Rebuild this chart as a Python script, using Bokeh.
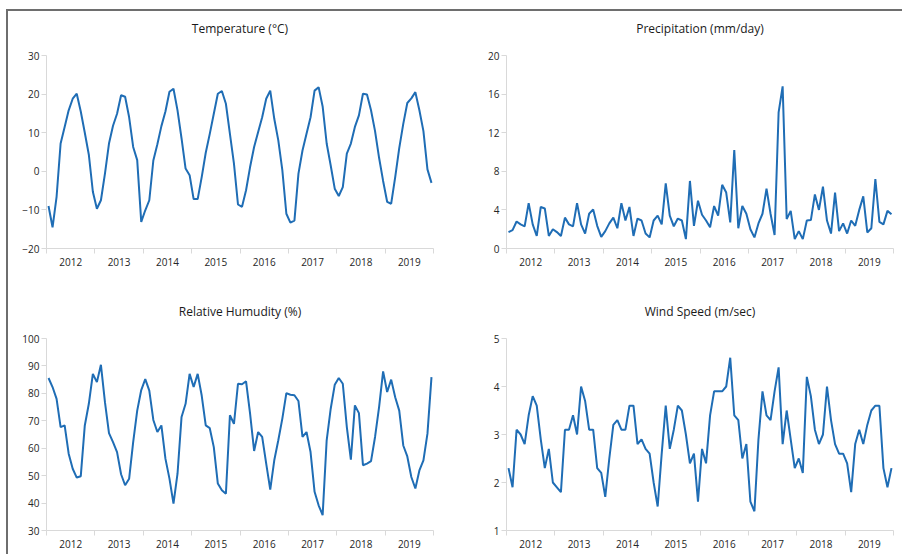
from bokeh.plotting import figure
from bokeh.models import Range1d, FixedTicker, Title
from bokeh.layouts import row, column
from bokeh.embed import file_html
from bokeh.resources import INLINE

years = ["2012", "2013", "2014", "2015", "2016", "2017", "2018", "2019"]

temperature = [
    -9.0, -14.5, -6.6, 7.2, 11.5, 15.8, 18.8, 20.1, 15.5, 10.0, 4.3, -5.3,
    -9.7, -7.5, -0.6, 7.2, 11.8, 14.9, 19.7, 19.3, 14.0, 6.3, 2.9, -13.1,
    -10.1, -7.5, 2.8, 7.0, 11.7, 15.5, 20.6, 21.4, 15.8, 8.5, 0.7, -1.0,
    -7.2, -7.2, -1.5, 4.8, 9.7, 14.9, 20.1, 20.8, 17.5, 9.7, 2.0, -8.6,
    -9.2, -4.9, 1.1, 6.3, 10.2, 14.0, 18.8, 20.9, 13.6, 8.0, 0.3, -11.0,
    -13.3, -12.8, -0.6, 5.4, 9.7, 14.0, 20.9, 21.8, 16.8, 7.2, 1.5, -4.5,
    -6.4, -4.1, 4.6, 7.2, 11.5, 14.5, 20.1, 19.9, 15.8, 10.4, 3.5, -2.5,
    -7.9, -8.4, -1.5, 6.0, 12.3, 17.7, 18.9, 20.5, 15.8, 10.4, 0.5, -3.0,
]

precipitation = [
    1.7, 1.9, 2.8, 2.5, 2.3, 4.7, 2.5, 1.3, 4.3, 4.15, 1.3, 2.0,
    1.7, 1.3, 3.2, 2.5, 2.3, 4.7, 2.5, 1.55, 3.6, 4.05, 2.35, 1.2,
    1.8, 2.6, 3.2, 2.1, 4.7, 2.9, 4.3, 1.3, 3.1, 2.9, 1.55, 1.15,
    2.9, 3.4, 2.5, 6.75, 3.4, 2.3, 3.1, 2.9, 0.97, 7.0, 2.35, 4.95,
    3.5, 2.9, 2.2, 4.4, 3.4, 6.6, 5.8, 2.7, 10.2, 2.1, 4.4, 3.6,
    2.0, 1.15, 2.6, 3.6, 6.2, 3.6, 1.4, 14.1, 16.8, 3.05, 3.9, 0.97,
    1.8, 0.97, 2.9, 2.95, 5.6, 4.0, 6.4, 2.9, 1.55, 5.8, 1.8, 2.6,
    1.55, 2.9, 2.35, 4.0, 5.4, 1.66, 2.1, 7.2, 2.75, 2.5, 3.9, 3.55,
]

humidity = [
    85.6, 82.3, 78.0, 67.7, 68.3, 58.0, 52.5, 49.3, 49.8, 68.3, 76.2, 87.1,
    84.1, 90.4, 76.8, 65.5, 62.2, 58.6, 50.5, 46.5, 48.9, 62.2, 73.7, 81.2,
    85.2, 81.0, 70.3, 65.9, 68.3, 56.2, 48.9, 39.8, 50.7, 71.4, 76.2, 87.1,
    82.3, 87.1, 79.2, 68.3, 67.3, 60.4, 47.1, 44.7, 43.4, 72.0, 68.9, 83.5,
    83.3, 84.4, 72.6, 59.0, 65.9, 64.1, 54.4, 44.9, 55.6, 62.9, 70.8, 80.1,
    79.5, 79.3, 77.2, 64.1, 65.9, 58.6, 44.1, 39.2, 35.6, 62.9, 74.4, 83.1,
    85.6, 83.5, 67.7, 55.8, 75.6, 72.8, 53.8, 54.4, 55.3, 64.1, 75.0, 88.0,
    80.5, 85.0, 78.6, 73.7, 61.0, 57.0, 49.5, 45.3, 51.9, 55.6, 65.3, 85.9,
]

wind_speed = [
    2.3, 1.9, 3.1, 3.0, 2.8, 3.4, 3.8, 3.6, 2.9, 2.3, 2.7, 2.0,
    1.9, 1.8, 3.1, 3.1, 3.4, 3.0, 4.0, 3.7, 3.1, 3.1, 2.3, 2.2,
    1.7, 2.5, 3.2, 3.3, 3.1, 3.1, 3.6, 3.6, 2.8, 2.9, 2.7, 2.6,
    2.0, 1.5, 2.6, 3.6, 2.7, 3.1, 3.6, 3.5, 3.0, 2.4, 2.6, 1.6,
    2.7, 2.4, 3.4, 3.9, 3.9, 3.9, 4.0, 4.6, 3.4, 3.3, 2.5, 2.8,
    1.6, 1.4, 2.9, 3.9, 3.4, 3.3, 3.9, 4.4, 2.8, 3.5, 2.9, 2.3,
    2.5, 2.2, 4.2, 3.8, 3.1, 2.8, 3.0, 4.0, 3.3, 2.8, 2.6, 2.6,
    2.4, 1.8, 2.8, 3.1, 2.8, 3.2, 3.5, 3.6, 3.6, 2.3, 1.9, 2.3,
]

temp_ticks = [-20, -10, 0, 10, 20, 30]
precip_ticks = [0, 4, 8, 12, 16, 20]
humid_ticks = [30, 40, 50, 60, 70, 80, 90, 100]
wind_ticks = [1, 2, 3, 4, 5]

BLUE = "#1f6db5"
AXIS = "#d9d9d9"
TEXT = "#262626"
FONT = "Open Sans"


def make(title, values, yticks, w, h, bl, br, bt, bb):
    n = len(values)
    x = [i + 0.5 for i in range(n)]
    p = figure(width=w, height=h, x_range=Range1d(0, n),
               y_range=Range1d(yticks[0], yticks[-1]), title=None,
               output_backend="svg", toolbar_location=None,
               min_border_left=bl, min_border_right=br,
               min_border_top=bt, min_border_bottom=bb)
    p.line(x, values, line_color=BLUE, line_width=2)
    p.add_layout(Title(text=" ", text_font_size="15px", standoff=0), "above")
    p.add_layout(Title(text=title, align="center", text_font=FONT,
                       text_font_size="12px", text_font_style="normal",
                       text_color="#1a1a1a", standoff=0), "above")
    p.outline_line_color = None
    p.xgrid.grid_line_color = None
    p.ygrid.grid_line_color = None
    p.background_fill_color = "white"
    p.border_fill_color = "white"

    xa = p.xaxis[0]
    per = n // len(years)
    xa.ticker = FixedTicker(ticks=[per * k + per / 2 for k in range(len(years))],
                            minor_ticks=[per * k for k in range(len(years) + 1)])
    xa.major_label_overrides = {per * k + per / 2: years[k] for k in range(len(years))}
    xa.major_tick_out = 0
    xa.major_tick_in = 0
    xa.minor_tick_out = 5
    xa.minor_tick_in = 0
    xa.minor_tick_line_color = AXIS
    xa.axis_line_color = AXIS
    xa.major_label_standoff = 4
    xa.major_label_text_font = FONT
    xa.major_label_text_font_size = "10px"
    xa.major_label_text_color = TEXT

    ya = p.yaxis[0]
    ya.ticker = FixedTicker(ticks=yticks, minor_ticks=[])
    ya.major_tick_out = 5
    ya.major_tick_in = 0
    ya.major_tick_line_color = AXIS
    ya.axis_line_color = AXIS
    ya.major_label_standoff = 2
    ya.major_label_text_font = FONT
    ya.major_label_text_font_size = "10px"
    ya.major_label_text_color = TEXT
    return p


p1 = make("Temperature (°C)", temperature, temp_ticks, 442, 266, 38, 17, 44, 29)
p2 = make("Precipitation (mm/day)", precipitation, precip_ticks, 452, 266, 56, 9, 44, 29)
p3 = make("Relative Humudity (%)", humidity, humid_ticks, 442, 277, 38, 17, 61, 24)
p4 = make("Wind Speed (m/sec)", wind_speed, wind_ticks, 452, 277, 56, 9, 61, 24)

layout = column(row(p1, p2), row(p3, p4),
                styles={"margin-top": "9px", "margin-left": "6px",
                        "border-top": "2px solid #6e6e6e",
                        "border-left": "2px solid #6e6e6e"})

open("out.html", "w").write(file_html(layout, INLINE))
